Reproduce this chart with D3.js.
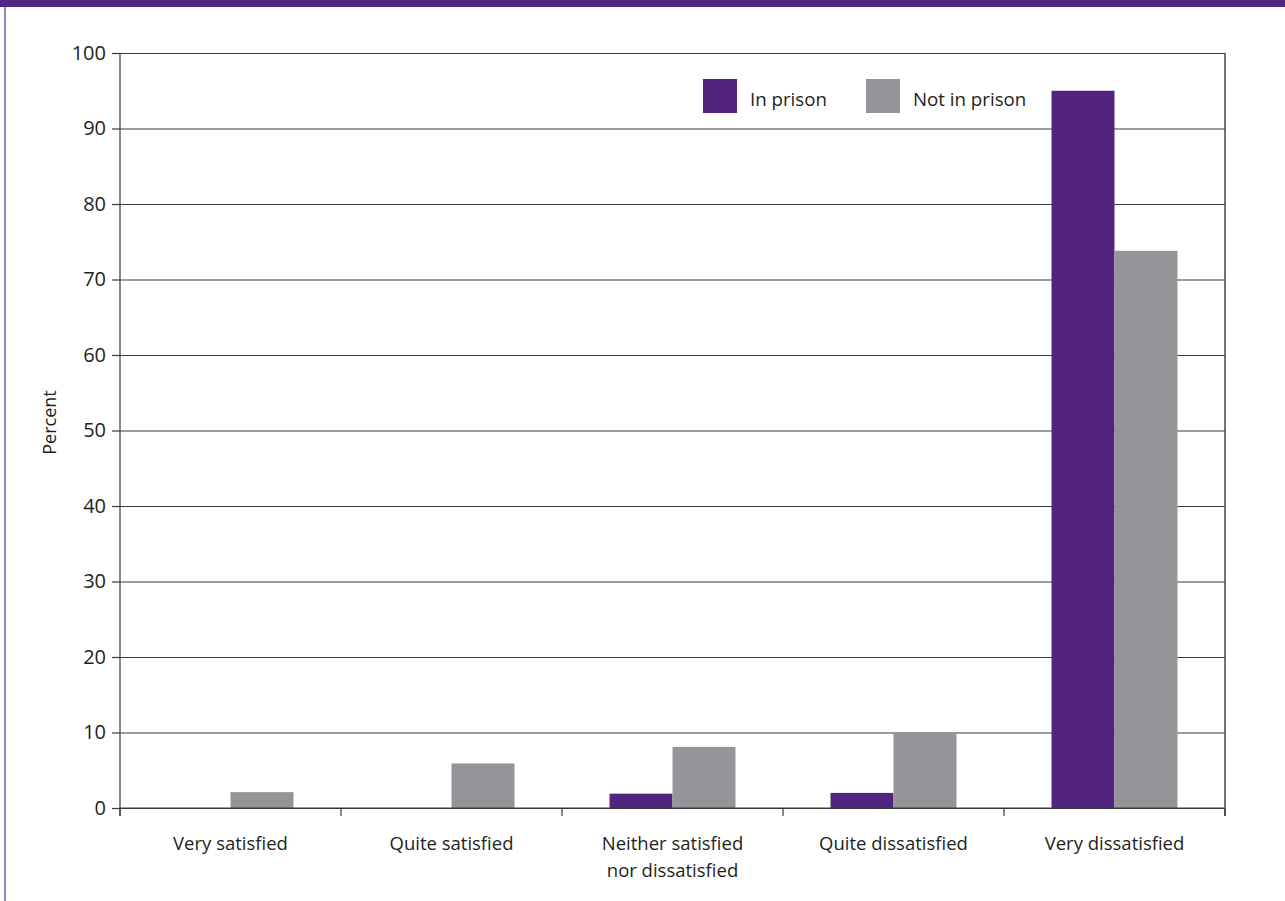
<!DOCTYPE html>
<html>
<head>
<meta charset="utf-8">
<script src="https://cdn.jsdelivr.net/npm/d3@7/dist/d3.min.js"></script>
<style>
  html, body { margin: 0; padding: 0; background: #fff; }
  svg { display: block; }
  text { font-family: "Open Sans", "Noto Sans", sans-serif; fill: #231f20; }
</style>
</head>
<body>
<svg id="chart" width="1285" height="901"></svg>
<script>
// Satisfaction with health services, by prison status (percent)
const categories = [
  ["Very satisfied"],
  ["Quite satisfied"],
  ["Neither satisfied", "nor dissatisfied"],
  ["Quite dissatisfied"],
  ["Very dissatisfied"]
];
const seriesNames = ["In prison", "Not in prison"];
const inPrison    = [0, 0, 1.9, 2.0, 95.0];
const notInPrison = [2.1, 5.9, 8.1, 10.0, 73.8];
const yTicks = [0, 10, 20, 30, 40, 50, 60, 70, 80, 90, 100];
const colors = ["#51247f", "#939598"];

const svg = d3.select("#chart");
const W = 1285, H = 901;
const margin = { top: 53, right: 60, bottom: 93, left: 120 };
const width = W - margin.left - margin.right;
const height = H - margin.top - margin.bottom;

// page frame: purple band on top, thin lavender rule on the left
svg.append("rect").attr("x", 0).attr("y", 0).attr("width", W).attr("height", 7).attr("fill", "#522582");
svg.append("rect").attr("x", 4).attr("y", 7).attr("width", 2).attr("height", H - 7).attr("fill", "#9b80c3");

const g = svg.append("g").attr("transform", `translate(${margin.left},${margin.top})`);

const keys = categories.map(c => c.join(" "));
const x0 = d3.scaleBand().domain(keys).range([0, width]).paddingInner(0).paddingOuter(0);
const barW = x0.bandwidth() * 0.285;
const x1 = d3.scaleBand().domain(seriesNames).range([x0.bandwidth() / 2 - barW, x0.bandwidth() / 2 + barW]);
const y = d3.scaleLinear().domain([0, 100]).range([height, 0]);

// horizontal gridlines
const grid = g.append("g")
  .call(d3.axisLeft(y).tickValues(yTicks).tickSize(-width).tickFormat(""));
grid.select(".domain").remove();
grid.selectAll(".tick line").attr("stroke", "#3a3a3a").attr("stroke-width", 1.2);

// bars
const rows = keys.map((k, i) => ({ key: k, values: [inPrison[i], notInPrison[i]] }));
const groups = g.append("g").selectAll("g").data(rows).join("g")
  .attr("transform", d => `translate(${x0(d.key)},0)`);
groups.selectAll("rect")
  .data(d => d.values.map((v, j) => ({ name: seriesNames[j], value: v, color: colors[j] })))
  .join("rect")
  .attr("x", d => x1(d.name))
  .attr("width", x1.bandwidth())
  .attr("y", d => y(d.value))
  .attr("height", d => y(0) - y(d.value))
  .attr("fill", d => d.color);

// y axis
const yAxis = g.append("g")
  .call(d3.axisLeft(y).tickValues(yTicks).tickSize(8).tickPadding(6));
yAxis.select(".domain").attr("stroke", "#3a3a3a").attr("stroke-width", 1.2)
  .attr("d", `M0,${height + 8}V0`);
yAxis.selectAll(".tick line").attr("stroke", "#3a3a3a").attr("stroke-width", 1.2);
yAxis.selectAll(".tick text")
  .style("font-family", "'Open Sans', 'Noto Sans', sans-serif")
  .style("font-size", "20px").attr("fill", "#231f20");

// right frame edge
g.append("line").attr("x1", width).attr("x2", width).attr("y1", 0).attr("y2", height + 8)
  .attr("stroke", "#3a3a3a").attr("stroke-width", 1.4);

// x axis baseline, category boundary ticks and labels
g.append("line").attr("x1", 0).attr("x2", width).attr("y1", height).attr("y2", height)
  .attr("stroke", "#3a3a3a").attr("stroke-width", 1.2);
const bounds = keys.map(k => x0(k)).concat([width]);
g.append("g").selectAll("line").data(bounds).join("line")
  .attr("x1", d => d).attr("x2", d => d)
  .attr("y1", height).attr("y2", height + 8)
  .attr("stroke", "#3a3a3a").attr("stroke-width", 1.2);

const xl = g.append("g").selectAll("text").data(categories).join("text")
  .attr("x", (d, i) => x0(keys[i]) + x0.bandwidth() / 2)
  .attr("y", height + 42)
  .attr("text-anchor", "middle")
  .style("font-size", "18.5px");
xl.selectAll("tspan").data(d => d).join("tspan")
  .attr("x", function () { return d3.select(this.parentNode).attr("x"); })
  .attr("dy", (d, i) => i === 0 ? 0 : 27)
  .text(d => d);

// y axis title
g.append("text")
  .attr("transform", `translate(${-64},${height / 2 - 8}) rotate(-90)`)
  .attr("text-anchor", "middle")
  .style("font-size", "18px")
  .text("Percent");

// legend
const legend = svg.append("g").attr("transform", "translate(703,79)");
const legendX = [0, 163];
seriesNames.forEach((name, i) => {
  const item = legend.append("g").attr("transform", `translate(${legendX[i]},0)`);
  item.append("rect").attr("width", 34).attr("height", 34).attr("fill", colors[i]);
  item.append("text").attr("x", 47).attr("y", 27).style("font-size", "18.7px").text(name);
});
</script>
</body>
</html>
